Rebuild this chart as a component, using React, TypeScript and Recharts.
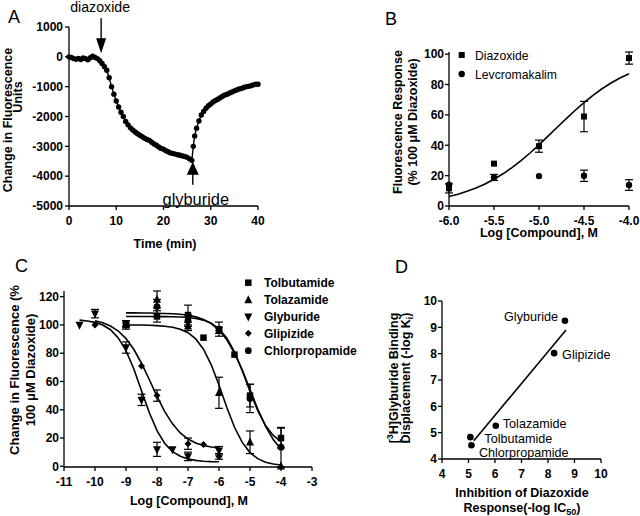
import React from "react";
import { ScatterChart, Scatter, XAxis, YAxis, ErrorBar, ReferenceDot, LabelList } from "recharts";

const FONT = '"Liberation Sans", Arial, Helvetica, sans-serif';

// ---------------- Panel A: time course ----------------
const aTimes = [
  0, 0.5, 1, 1.5, 2, 2.5, 3, 3.5, 4, 4.5, 5, 5.5, 6, 6.5, 7, 7.5, 8, 8.5, 9, 9.5,
  10, 10.5, 11, 11.5, 12, 12.5, 13, 13.5, 14, 14.5, 15, 15.5, 16, 16.5, 17, 17.5,
  18, 18.5, 19, 19.5, 20, 20.5, 21, 21.5, 22, 22.5, 23, 23.5, 24, 24.5, 25, 25.5,
  26, 26.3, 26.6, 27, 27.5, 28, 28.5, 29, 29.5, 30, 30.5, 31, 31.5, 32, 32.5, 33,
  33.5, 34, 34.5, 35, 35.5, 36, 36.5, 37, 37.5, 38, 38.5, 39, 39.5, 40,
];
const aValues = [
  0, -20, -60, -80, -50, -90, -40, -60, -100, -30, 20, -20, -60, -130, -220, -330, -450, -700, -1000, -1250,
  -1480, -1680, -1860, -2000, -2170, -2280, -2380, -2450, -2520, -2580, -2630, -2680, -2730, -2770, -2800, -2860,
  -2920, -2960, -3020, -3070, -3100, -3150, -3180, -3220, -3240, -3260, -3280, -3300, -3320, -3340, -3370, -3420,
  -3470, -3000, -2650, -2390, -2150, -1950, -1830, -1720, -1640, -1580, -1510, -1460, -1420, -1370, -1320, -1280,
  -1250, -1210, -1180, -1140, -1110, -1080, -1060, -1030, -1000, -990, -970, -940, -920, -920,
];
const aXTicks = [0, 10, 20, 30, 40];
const aYTicks = [-5000, -4000, -3000, -2000, -1000, 0, 1000];
const aDiazoxideAdded = { t: 6.8, v: 120 };
const aGlyburideAdded = { t: 26.2, v: -3520 };

// ---------------- Panel B: diazoxide / levcromakalim ----------------
const bDoses = [-6, -5.5, -5, -4.5, -4];
const bDiazoxide = [11.6, 27.9, 39.4, 58.9, 97.4];
const bDiazoxideErr = [3, 0, 4, 10, 4];
const bLevcromakalim = [14, 18.8, 19.7, 19.9, 13.8];
const bLevcromakalimErr = [0, 2, 0, 3.7, 3.5];
const bFitX = [-6, -5.9, -5.8, -5.7, -5.6, -5.5, -5.4, -5.3, -5.2, -5.1, -5, -4.9, -4.8, -4.7, -4.6, -4.5, -4.4, -4.3, -4.2, -4.1, -4];
const bFitY = [6.3, 7.8, 9.7, 11.9, 14.5, 17.6, 21.2, 25.3, 29.9, 34.9, 40.3, 46.0, 51.7, 57.4, 62.9, 68.1, 72.9, 77.2, 81.0, 84.3, 87.1];
const bXTicks = [-6, -5.5, -5, -4.5, -4];
const bYTicks = [0, 20, 40, 60, 80, 100];

// ---------------- Panel C: sulfonylureas ----------------
const cTolbutamideX = [-9, -8, -7, -6.5, -6, -5.5, -5, -4];
const cTolbutamideY = [100, 106, 107, 91, 97, 79, 50, 20];
const cTolbutamideErr = [3, 4, 7, 0, 5, 0, 8, 7];
const cTolazamideX = [-9, -8, -7, -6, -5, -4];
const cTolazamideY = [100, 118, 99, 52, 17, 0];
const cTolazamideErr = [0, 6, 3, 11, 8, 0];
const cGlyburideX = [-10.5, -10, -9, -8.5, -8, -7.5, -7, -6];
const cGlyburideY = [100, 108, 84, 47, 12, 12, 7, 11];
const cGlyburideErr = [0, 3, 4, 4, 5, 0, 3, 3];
const cGlipizideX = [-10, -8.5, -8, -7, -6.5, -6];
const cGlipizideY = [100, 71, 50, 16, 15.5, 7];
const cGlipizideErr = [0, 0, 4, 4, 0, 2];
const cChlorpropamideX = [-9, -8, -7, -6, -5, -4];
const cChlorpropamideY = [101, 113, 103, 96, 48, 13.5];
const cChlorpropamideErr = [2, 5, 4, 2, 10, 14];

const cFitGlyburideX = [-10.5, -10.25, -10, -9.75, -9.5, -9.25, -9, -8.75, -8.5, -8.25, -8, -7.75, -7.5, -7.25, -7, -6.75, -6.5, -6.25, -6];
const cFitGlyburideY = [103.4, 102.8, 101.8, 99.9, 96.6, 90.8, 81.8, 69.0, 53.5, 38.0, 25.2, 16.1, 10.4, 7.1, 5.2, 4.2, 3.6, 3.3, 3.2];
const cFitGlipizideX = [-10, -9.75, -9.5, -9.25, -9, -8.75, -8.5, -8.25, -8, -7.75, -7.5, -7.25, -7, -6.75, -6.5, -6.25, -6];
const cFitGlipizideY = [102.9, 101.5, 99.2, 95.7, 90.3, 82.8, 72.9, 61.4, 49.5, 38.7, 30.0, 23.6, 19.3, 16.5, 14.7, 13.6, 13.0];
const cFitRightX = [-9, -8.75, -8.5, -8.25, -8, -7.75, -7.5, -7.25, -7, -6.75, -6.5, -6.25, -6, -5.75, -5.5, -5.25, -5, -4.75, -4.5, -4.25, -4];
const cFitTolazamideY = [100.0, 100.0, 99.9, 99.8, 99.5, 99.1, 98.4, 97.0, 94.5, 90.1, 82.8, 71.8, 57.5, 41.8, 27.6, 16.9, 9.7, 5.4, 2.9, 1.6, 0.9];
const cFitTolbutamideY = [106.0, 106.0, 106.0, 106.0, 105.9, 105.9, 105.8, 105.6, 105.2, 104.6, 103.4, 101.2, 97.3, 90.8, 81.0, 67.8, 53.0, 39.4, 28.9, 21.8, 17.5];
const cFitChlorpropamideY = [108.5, 108.5, 108.4, 108.4, 108.3, 108.1, 107.9, 107.5, 106.8, 105.7, 103.9, 100.9, 96.4, 89.6, 80.1, 68.0, 54.3, 40.5, 28.4, 18.9, 12.1];
const cXTicks = [-11, -10, -9, -8, -7, -6, -5, -4, -3];
const cYTicks = [0, 20, 40, 60, 80, 100, 120];
const cLegendNames = ["Tolbutamide", "Tolazamide", "Glyburide", "Glipizide", "Chlorpropamide"];

// ---------------- Panel D: correlation ----------------
const dNames = ["Glyburide", "Glipizide", "Tolazamide", "Tolbutamide", "Chlorpropamide"];
const dX = [8.64, 8.23, 6.03, 5.07, 5.11];
const dY = [9.25, 8.02, 5.26, 4.83, 4.52];
const dFitX = [5.2, 8.68];
const dFitY = [4.69, 8.9];
const dTicks = [4, 5, 6, 7, 8, 9, 10];

// label placement (style only)
const dLabelStyle: Record<string, { dx: number; dy: number; anchor: string }> = {
  Glyburide: { dx: -7, dy: 0.5, anchor: "end" },
  Glipizide: { dx: 8, dy: 6, anchor: "start" },
  Tolazamide: { dx: 7, dy: 2.6, anchor: "start" },
  Tolbutamide: { dx: 14, dy: 5.8, anchor: "start" },
  Chlorpropamide: { dx: 7.5, dy: 12, anchor: "start" },
};

// ---------------- helpers ----------------
const zip = (xs: number[], ys: number[], es?: number[]) =>
  xs.map((x, i) => ({ x, y: ys[i], e: es ? es[i] : 0 }));

const circleShape = (r: number) => (p: any) => <circle cx={p.cx} cy={p.cy} r={r} fill="#000" />;
const squareShape = (s: number) => (p: any) => (
  <rect x={p.cx - s / 2} y={p.cy - s / 2} width={s} height={s} fill="#000" />
);
const triUpShape = (s: number) => (p: any) => (
  <polygon
    points={`${p.cx},${p.cy - s * 0.6} ${p.cx - s / 2},${p.cy + s * 0.4} ${p.cx + s / 2},${p.cy + s * 0.4}`}
    fill="#000"
  />
);
const triDownShape = (s: number) => (p: any) => (
  <polygon
    points={`${p.cx},${p.cy + s * 0.6} ${p.cx - s / 2},${p.cy - s * 0.4} ${p.cx + s / 2},${p.cy - s * 0.4}`}
    fill="#000"
  />
);
const diamondShape = (s: number) => (p: any) => (
  <polygon
    points={`${p.cx},${p.cy - s / 2} ${p.cx + s / 2},${p.cy} ${p.cx},${p.cy + s / 2} ${p.cx - s / 2},${p.cy}`}
    fill="#000"
  />
);
const noShape = () => <g />;

const axisStroke = { stroke: "#000", strokeWidth: 1.3 };
const curveLine = { stroke: "#000", strokeWidth: 1.6 };

const boldTick = (side: "bottom" | "left", fmt?: (v: number) => string) => (p: any) => (
  <text
    x={p.x}
    y={p.y}
    dy={side === "bottom" ? "0.71em" : "0.355em"}
    textAnchor={side === "bottom" ? "middle" : "end"}
    fontFamily={FONT}
    fontSize={12}
    fontWeight={700}
    fill="#000"
  >
    {fmt ? fmt(p.payload.value) : String(p.payload.value)}
  </text>
);

const errProps = { dataKey: "e", direction: "y" as const, width: 4, stroke: "#000", strokeWidth: 1.2 };

const cMarkers = [squareShape(6.5), triUpShape(8), triDownShape(8), diamondShape(7), circleShape(3.4)];

const box = (left: number, top: number): React.CSSProperties => ({ position: "absolute", left, top });

function PanelA() {
  const data = zip(aTimes, aValues);
  return (
    <div style={box(0, 0)}>
      <ScatterChart width={320} height={258} margin={{ top: 27, right: 62, bottom: 22, left: 9 }}>
        <XAxis type="number" dataKey="x" domain={[0, 40]} ticks={aXTicks} interval={0} height={30}
          tick={boldTick("bottom")} tickSize={4} tickMargin={6} axisLine={axisStroke} tickLine={axisStroke} />
        <YAxis type="number" dataKey="y" domain={[-5000, 1000]} ticks={aYTicks} interval={0} width={60}
          tick={boldTick("left")} tickSize={4} tickMargin={2} axisLine={axisStroke} tickLine={axisStroke} />
        <Scatter data={data} line={{ stroke: "#000", strokeWidth: 1.4 }} lineType="joint"
          shape={circleShape(2.7)} isAnimationActive={false} />
        <ReferenceDot x={aDiazoxideAdded.t} y={aDiazoxideAdded.v} ifOverflow="visible"
          shape={(p: any) => (
            <g>
              <line x1={p.cx} y1={p.cy - 14} x2={p.cx} y2={p.cy - 35} stroke="#000" strokeWidth={1.4} />
              <polygon points={`${p.cx},${p.cy} ${p.cx - 5},${p.cy - 15} ${p.cx + 5},${p.cy - 15}`} fill="#000" />
              <text x={p.cx - 1} y={p.cy - 41} textAnchor="middle" fontSize={14.2} fontFamily={FONT} fill="#000">diazoxide</text>
            </g>
          )} />
        <ReferenceDot x={aGlyburideAdded.t} y={aGlyburideAdded.v} ifOverflow="visible"
          shape={(p: any) => (
            <g>
              <line x1={p.cx} y1={p.cy + 12} x2={p.cx} y2={p.cy + 23} stroke="#000" strokeWidth={1.4} />
              <polygon points={`${p.cx},${p.cy} ${p.cx - 6},${p.cy + 13} ${p.cx + 6},${p.cy + 13}`} fill="#000" />
              <text x={p.cx + 3} y={p.cy + 43} textAnchor="middle" fontSize={16.4} fontFamily={FONT} fill="#000">glyburide</text>
            </g>
          )} />
      </ScatterChart>
    </div>
  );
}

function PanelB() {
  return (
    <div style={box(320, 0)}>
      <ScatterChart width={320} height={258} margin={{ top: 52, right: 11, bottom: 22, left: 69 }}>
        <XAxis type="number" dataKey="x" domain={[-6, -4]} ticks={bXTicks} interval={0} height={30}
          tick={boldTick("bottom", (v: number) => v.toFixed(1))} tickSize={4} tickMargin={6}
          axisLine={axisStroke} tickLine={axisStroke} />
        <YAxis type="number" dataKey="y" domain={[0, 100]} ticks={bYTicks} interval={0} width={60}
          tick={boldTick("left")} tickSize={4} tickMargin={1} axisLine={axisStroke} tickLine={axisStroke} />
        <Scatter data={zip(bFitX, bFitY)} line={curveLine} lineType="joint" shape={noShape} isAnimationActive={false} />
        <Scatter data={zip(bDoses, bDiazoxide, bDiazoxideErr)} shape={squareShape(6)} isAnimationActive={false}>
          <ErrorBar {...errProps} />
        </Scatter>
        <Scatter data={zip(bDoses, bLevcromakalim, bLevcromakalimErr)} shape={circleShape(3.2)} isAnimationActive={false}>
          <ErrorBar {...errProps} />
        </Scatter>
      </ScatterChart>
    </div>
  );
}

function PanelC() {
  const pts = [
    zip(cTolbutamideX, cTolbutamideY, cTolbutamideErr),
    zip(cTolazamideX, cTolazamideY, cTolazamideErr),
    zip(cGlyburideX, cGlyburideY, cGlyburideErr),
    zip(cGlipizideX, cGlipizideY, cGlipizideErr),
    zip(cChlorpropamideX, cChlorpropamideY, cChlorpropamideErr),
  ];
  const fits = [
    zip(cFitGlyburideX, cFitGlyburideY),
    zip(cFitGlipizideX, cFitGlipizideY),
    zip(cFitRightX, cFitTolazamideY),
    zip(cFitRightX, cFitTolbutamideY),
    zip(cFitRightX, cFitChlorpropamideY),
  ];
  return (
    <div style={box(0, 258)}>
      <ScatterChart width={320} height={258} margin={{ top: 33, right: 8, bottom: 19, left: 9 }}>
        <XAxis type="number" dataKey="x" domain={[-11, -3]} ticks={cXTicks} interval={0} height={30}
          tick={boldTick("bottom")} tickSize={4} tickMargin={6} axisLine={axisStroke} tickLine={axisStroke} />
        <YAxis type="number" dataKey="y" domain={[0, 120]} ticks={cYTicks} interval={0} width={55}
          tick={boldTick("left")} tickSize={4} tickMargin={1} axisLine={axisStroke} tickLine={axisStroke} />
        {fits.map((f, i) => (
          <Scatter key={"f" + i} data={f} line={curveLine} lineType="joint" shape={noShape} isAnimationActive={false} />
        ))}
        {pts.map((d, i) => (
          <Scatter key={"p" + i} data={d} shape={cMarkers[i]} isAnimationActive={false}>
            <ErrorBar {...errProps} />
          </Scatter>
        ))}
      </ScatterChart>
    </div>
  );
}

function PanelD() {
  const data = dNames.map((name, i) => ({ x: dX[i], y: dY[i], name }));
  return (
    <div style={box(320, 258)}>
      <ScatterChart width={320} height={258} margin={{ top: 43, right: 39, bottom: 32, left: 67 }}>
        <XAxis type="number" dataKey="x" domain={[4, 10]} ticks={dTicks} interval={0} height={25}
          tick={boldTick("bottom")} tickSize={4} tickMargin={6} axisLine={axisStroke} tickLine={axisStroke} />
        <YAxis type="number" dataKey="y" domain={[4, 10]} ticks={dTicks} interval={0} width={55}
          tick={boldTick("left")} tickSize={4} tickMargin={1} axisLine={axisStroke} tickLine={axisStroke} />
        <Scatter data={zip(dFitX, dFitY)} line={curveLine} lineType="joint" shape={noShape} isAnimationActive={false} />
        <Scatter data={data} shape={circleShape(3.3)} isAnimationActive={false}>
          <LabelList dataKey="name"
            content={(p: any) => {
              const s = dLabelStyle[p.value];
              const cx = p.x + p.width / 2;
              const cy = p.y + p.height / 2;
              return (
                <text x={cx + s.dx} y={cy + s.dy} textAnchor={s.anchor as any} fontSize={12.6} fontFamily={FONT} fill="#000">
                  {p.value}
                </text>
              );
            }} />
        </Scatter>
      </ScatterChart>
    </div>
  );
}

function Overlay() {
  const bold = { fontFamily: FONT, fontWeight: 700, fontSize: 12.5, fill: "#000" };
  const letter = { fontFamily: FONT, fontSize: 18, fill: "#000" };
  const legC = [282.7, 300, 316.7, 333.3, 350.7];
  return (
    <svg width={640} height={516} style={{ position: "absolute", left: 0, top: 0, pointerEvents: "none" }}>
      {/* Panel A */}
      <text x={8} y={23} {...letter}>A</text>
      <text transform="translate(11.5,120) rotate(-90)" textAnchor="middle" {...bold}>Change in Fluorescence</text>
      <text transform="translate(21.5,97) rotate(-90)" textAnchor="middle" {...bold}>Units</text>
      <text x={165} y={247.5} textAnchor="middle" {...bold}>Time (min)</text>

      {/* Panel B */}
      <text x={385} y={25} {...letter}>B</text>
      <text transform="translate(401.5,122) rotate(-90)" textAnchor="middle" {...bold}>Fluorescence Response</text>
      <text transform="translate(417,122) rotate(-90)" textAnchor="middle" {...bold}>(% 100 μM Diazoxide)</text>
      <text x={539} y={237} textAnchor="middle" {...bold}>Log [Compound], M</text>
      <rect x={458.7} y={52} width={6} height={6} fill="#000" />
      <text x={475} y={59.5} fontFamily={FONT} fontSize={12.2} fill="#000">Diazoxide</text>
      <circle cx={461.7} cy={74} r={3.2} fill="#000" />
      <text x={475} y={78.7} fontFamily={FONT} fontSize={12.2} fill="#000">Levcromakalim</text>

      {/* Panel C */}
      <text x={15} y={272} {...letter}>C</text>
      <text transform="translate(18.5,370) rotate(-90)" textAnchor="middle" {...bold} fontSize={13}>Change in Fluorescence (%</text>
      <text transform="translate(35,370) rotate(-90)" textAnchor="middle" {...bold} fontSize={13}>100 μM Diazoxide)</text>
      <text x={189} y={504.5} textAnchor="middle" {...bold}>Log [Compound], M</text>
      {cLegendNames.map((n, i) => (
        <g key={n}>
          {cMarkers[i]({ cx: 248.3, cy: legC[i] })}
          <text x={264} y={legC[i] + 4.4} {...bold} fontSize={12}>{n}</text>
        </g>
      ))}

      {/* Panel D */}
      <text x={395} y={273} {...letter}>D</text>
      <text transform="translate(397.5,378) rotate(-90)" textAnchor="middle" {...bold}>
        [<tspan dy={-5} fontSize={9}>3</tspan><tspan dy={5}>H]Glyburide Binding</tspan>
      </text>
      <text transform="translate(410,378) rotate(-90)" textAnchor="middle" {...bold}>
        Displacement (-log K<tspan dy={3} fontSize={9}>i</tspan><tspan dy={-3}>)</tspan>
      </text>
      <text x={522} y={497} textAnchor="middle" {...bold}>Inhibition of Diazoxide</text>
      <text x={522} y={512} textAnchor="middle" {...bold}>
        Response(-log IC<tspan dy={3} fontSize={9}>50</tspan><tspan dy={-3}>)</tspan>
      </text>
    </svg>
  );
}

export default function App() {
  return (
    <div style={{ position: "absolute", left: 0, top: 0, width: 640, height: 516, background: "#fff", overflow: "hidden", fontFamily: FONT }}>
      <PanelA />
      <PanelB />
      <PanelC />
      <PanelD />
      <Overlay />
    </div>
  );
}
